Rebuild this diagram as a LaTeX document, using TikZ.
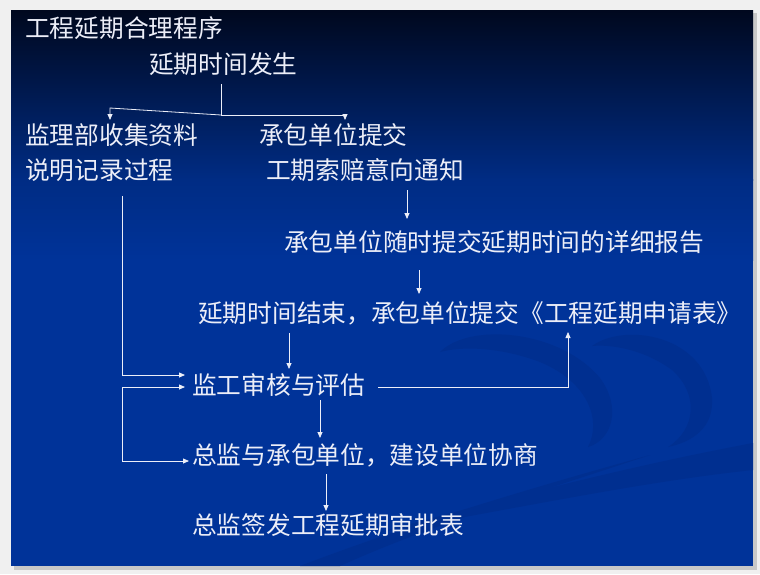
\documentclass[tikz,border=0pt]{standalone}
\usepackage{fontspec}
\newfontfamily\cjk{Noto Sans CJK SC}
\usetikzlibrary{arrows.meta}
\definecolor{pagebg}{RGB}{240,240,240}
\definecolor{shadowc}{RGB}{200,200,200}
\definecolor{topc}{RGB}{0,8,30}
\definecolor{midc}{RGB}{0,44,132}
\definecolor{slideblue}{RGB}{0,51,153}
\definecolor{swirl}{RGB}{0,47,144}
\definecolor{ink}{RGB}{236,238,248}
\tikzset{
  txt/.style={anchor=west, inner sep=0pt, text=ink, font=\cjk\fontsize{24.7}{29}\selectfont},
  conn/.style={draw=ink, line width=0.8pt},
  arr/.style={conn, -{Triangle[width=5pt,length=6pt]}},
  darr/.style={conn, {Triangle[width=5pt,length=6pt]}-{Triangle[width=5pt,length=6pt]}}
}
\begin{document}
\begin{tikzpicture}[x=1pt,y=-1pt]
\useasboundingbox (0,0) rectangle (760,574);
% page and slide
\fill[pagebg] (0,0) rectangle (760,574);
\fill[shadowc] (14,13) rectangle (757,570);
\fill[slideblue] (11,10) rectangle (753,566);
\shade[top color=topc, bottom color=midc] (11,10) rectangle (753,180);
\shade[top color=midc, bottom color=slideblue] (11,179.5) rectangle (753,260);
% faint swirls
\fill[swirl] (753,443) .. controls (620,468) and (500,500) .. (380,532)
  .. controls (520,508) and (640,482) .. (753,470) -- cycle;
\fill[swirl] (440,352) .. controls (470,322) and (560,330) .. (600,378)
  .. controls (622,408) and (612,440) .. (588,447)
  .. controls (602,420) and (588,382) .. (540,362)
  .. controls (500,347) and (462,346) .. (440,352) -- cycle;
\fill[swirl] (592,346) .. controls (625,322) and (705,335) .. (712,398)
  .. controls (714,428) and (692,442) .. (668,447)
  .. controls (695,430) and (700,395) .. (672,370)
  .. controls (645,350) and (612,344) .. (592,346) -- cycle;
\fill[swirl] (300,566) .. controls (420,520) and (560,480) .. (650,455)
  .. controls (560,485) and (430,525) .. (340,566) -- cycle;
% texts
\node[txt] (title) at (25,28) {工程延期合理程序};
\node[txt] (occur) at (149,64) {延期时间发生};
\node[txt] (coll1) at (25,135) {监理部收集资料};
\node[txt] (coll2) at (25,170) {说明记录过程};
\node[txt] (sub1) at (259,135) {承包单位提交};
\node[txt] (sub2) at (266,170) {工期索赔意向通知};
\node[txt] (report) at (284,242) {承包单位随时提交延期时间的详细报告};
\node[txt] (endd) at (198,313) {延期时间结束，承包单位提交《工程延期申请表》};
\node[txt] (review) at (192,385) {监工审核与评估};
\node[txt] (consult) at (192,455) {总监与承包单位，建设单位协商};
\node[txt] (sign) at (192,525) {总监签发工程延期审批表};
% connector points
\coordinate (a1) at (221,84);
\coordinate (j) at (221,115);
\coordinate (l1) at (110,108);
\coordinate (l2) at (110,120);
\coordinate (r1) at (345,115);
\coordinate (r2) at (345,120);
\coordinate (b1) at (407,190);
\coordinate (b2) at (407,219);
\coordinate (c1) at (419,270);
\coordinate (c2) at (419,294);
\coordinate (d1) at (289,333);
\coordinate (d2) at (289,369);
\coordinate (e1) at (122,196);
\coordinate (e2) at (185,375);
\coordinate (f1) at (185,387);
\coordinate (f2) at (189,461);
\coordinate (g1) at (378,387);
\coordinate (g2) at (568,332);
\coordinate (h1) at (320,400);
\coordinate (h2) at (320,438);
\coordinate (i1) at (326,474);
\coordinate (i2) at (326,511);
% connectors
\draw[conn] (a1) -- (j);
\draw[arr] (j) -- (l1) -- (l2);
\draw[arr] (j) -- (r1) -- (r2);
\draw[arr] (b1) -- (b2);
\draw[arr] (c1) -- (c2);
\draw[arr] (d1) -- (d2);
\draw[arr] (e1) |- (e2);
\draw[darr] (f1) -- (122,387) |- (f2);
\draw[arr] (g1) -| (g2);
\draw[arr] (h1) -- (h2);
\draw[arr] (i1) -- (i2);
\end{tikzpicture}
\end{document}
